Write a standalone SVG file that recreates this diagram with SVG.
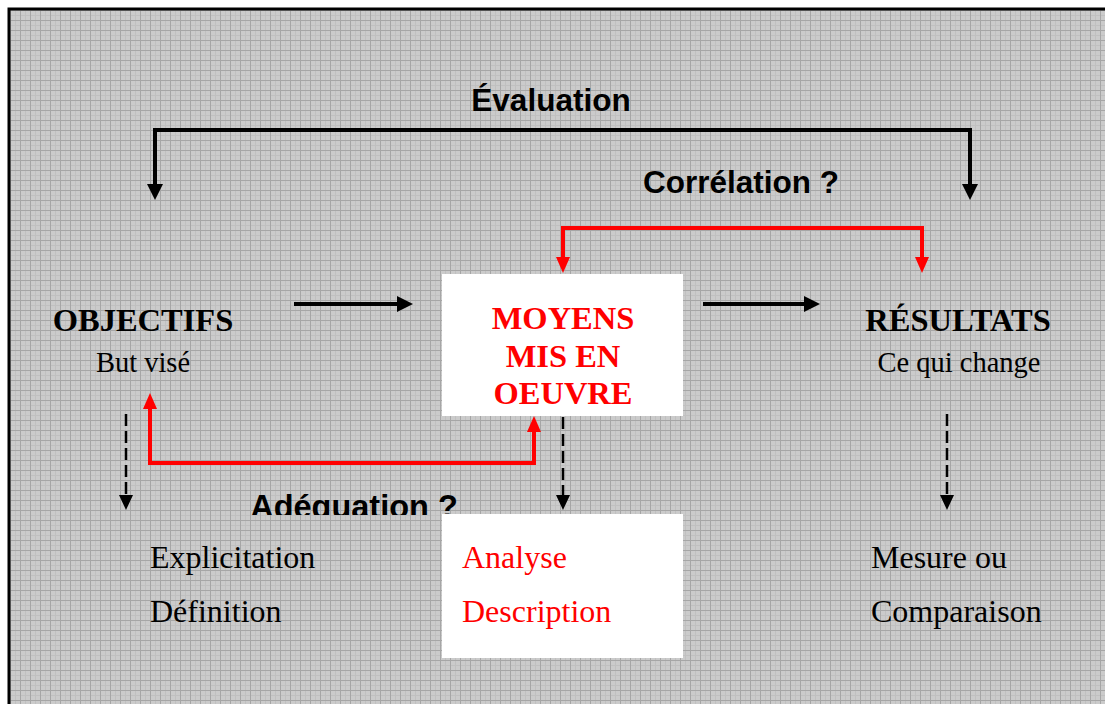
<svg xmlns="http://www.w3.org/2000/svg" width="1105" height="704" viewBox="0 0 1105 704">
<defs>
<pattern id="grid" width="10" height="10" patternUnits="userSpaceOnUse">
<rect width="10" height="10" fill="#cbcbcb"/>
<path d="M5.5,0V10M0,5.5H10" stroke="#c0c0c0" stroke-width="1"/>
<path d="M0.5,0V10M0,0.5H10" stroke="#a6a6a6" stroke-width="1"/>
</pattern>
<marker id="ab" markerUnits="userSpaceOnUse" markerWidth="16" markerHeight="16" refX="4" refY="8" orient="auto-start-reverse"><path d="M0,0L16,8L0,16z" fill="#000"/></marker>
<marker id="ar" markerUnits="userSpaceOnUse" markerWidth="16" markerHeight="16" refX="4" refY="8" orient="auto-start-reverse"><path d="M0,1L16,8L0,15z" fill="#f00"/></marker>
<marker id="ad" markerUnits="userSpaceOnUse" markerWidth="16" markerHeight="16" refX="2" refY="8" orient="auto"><path d="M0,1L15,8L0,15z" fill="#000"/></marker>
<clipPath id="clipAde"><rect x="0" y="0" width="1105" height="515"/></clipPath>
</defs>
<style>
.solid{fill:none;stroke:#000;stroke-width:4}
.red{fill:none;stroke:#f00;stroke-width:4}
.dash{fill:none;stroke:#000;stroke-width:2.5;stroke-dasharray:12 5}
.lab{font-family:"Liberation Sans",Arial,sans-serif;font-weight:bold;font-size:31.5px;fill:#000;text-anchor:middle}
.tb{font-family:"Liberation Serif","Times New Roman",serif;font-weight:bold;font-size:32.5px;text-anchor:middle}
.tn{font-family:"Liberation Serif","Times New Roman",serif;font-size:32px}
.ts{font-family:"Liberation Serif","Times New Roman",serif;font-size:28.5px;text-anchor:middle}
</style>
<rect x="0" y="0" width="1105" height="704" fill="#fff"/>
<rect x="9" y="9" width="1110" height="710" fill="url(#grid)" stroke="#000" stroke-width="3"/>

<g id="connectors">
<path class="solid" d="M155,188V130H970V188" marker-start="url(#ab)" marker-end="url(#ab)"/>
<path class="red" d="M563,261V228H922V261" marker-start="url(#ar)" marker-end="url(#ar)"/>
<path class="red" d="M150,405V463H534V428" marker-start="url(#ar)" marker-end="url(#ar)"/>
<path class="solid" d="M294,304H401" marker-end="url(#ab)"/>
<path class="solid" d="M703,304H808" marker-end="url(#ab)"/>
<path class="dash" d="M126,414V497" marker-end="url(#ad)"/>
<path class="dash" d="M563,417V497" marker-end="url(#ad)"/>
<path class="dash" d="M947,414V497" marker-end="url(#ad)"/>
</g>

<g id="label-evaluation"><text class="lab" x="551" y="111">Évaluation</text></g>
<g id="label-correlation"><text class="lab" x="741" y="193">Corrélation ?</text></g>
<g id="label-adequation" clip-path="url(#clipAde)"><text class="lab" x="354" y="518" style="font-size:32.5px">Adéquation ?</text></g>

<g id="objectifs">
<text class="tb" x="143" y="331" fill="#000">OBJECTIFS</text>
<text class="ts" x="143" y="372" fill="#000">But visé</text>
</g>

<g id="moyens">
<rect x="442" y="274" width="241" height="142" fill="#fff"/>
<text class="tb" x="563" y="329" fill="#f00">MOYENS</text>
<text class="tb" x="563" y="367" fill="#f00">MIS EN</text>
<text class="tb" x="563" y="404" fill="#f00">OEUVRE</text>
</g>

<g id="resultats">
<text class="tb" x="958" y="331" fill="#000">RÉSULTATS</text>
<text class="ts" x="959" y="372" fill="#000">Ce qui change</text>
</g>

<g id="explicitation">
<text class="tn" x="150" y="568" fill="#000">Explicitation</text>
<text class="tn" x="150" y="622" fill="#000">Définition</text>
</g>

<g id="analyse">
<rect x="442" y="514" width="241" height="144" fill="#fff"/>
<text class="tn" x="462" y="568" fill="#f00">Analyse</text>
<text class="tn" x="462" y="622" fill="#f00">Description</text>
</g>

<g id="mesure">
<text class="tn" x="871" y="568" fill="#000">Mesure ou</text>
<text class="tn" x="871" y="622" fill="#000">Comparaison</text>
</g>
</svg>
